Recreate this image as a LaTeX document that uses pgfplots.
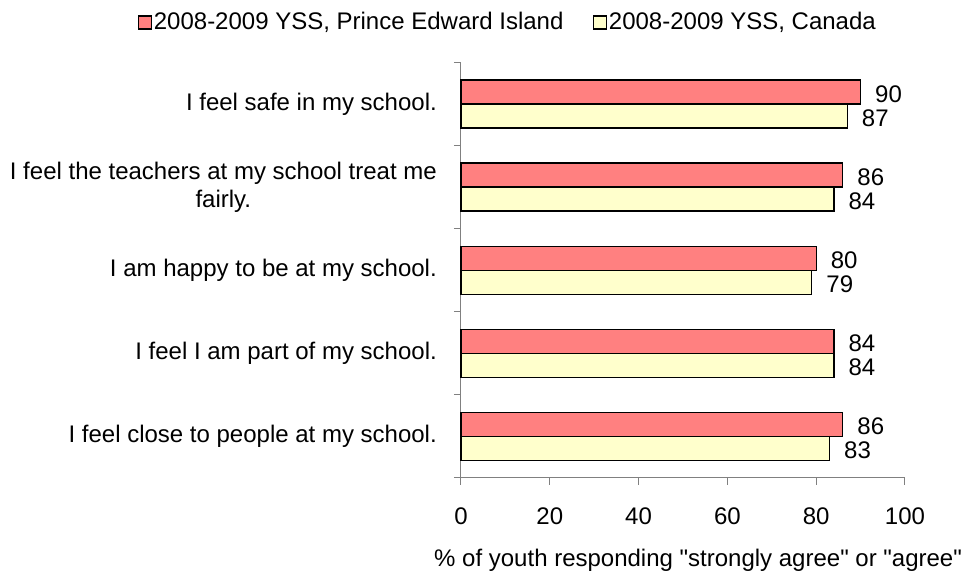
\documentclass[border=0pt]{standalone}
\usepackage{fontspec}
\setmainfont{Liberation Sans}[Ligatures=TeXOff]
\usepackage{pgfplots}
\pgfplotsset{compat=1.18}
\definecolor{peired}{HTML}{FF8080}
\definecolor{canyel}{HTML}{FFFFCC}
\definecolor{axgray}{HTML}{808080}
\begin{document}
\fontsize{24}{27.6}\selectfont
\begin{tikzpicture}
\begin{axis}[
 name=ax,
 scale only axis, width=444pt, height=415.6pt,
 xbar, bar width=24pt,
 xmin=0, xmax=100, ymin=-0.5, ymax=4.5,
 enlargelimits=false, clip=false,
 axis x line*=bottom, axis y line*=left,
 axis line style={axgray, line width=1pt, -},
 tick align=outside, major tick length=7pt,
 tick style={axgray, line width=1pt},
 xtick={0,20,...,100},
 xticklabel style={inner sep=0pt, yshift=-23pt},
 ytick={-0.5,0.5,...,4.5},
 yticklabel=\empty,
 extra y ticks={0,1,2,3,4},
 extra y tick labels={{I feel close to people at my school.},{I feel I am part of my school.},{I am happy to be at my school.},{I feel the teachers at my school treat me\\fairly.},{I feel safe in my school.}},
 extra y tick style={major tick length=0pt, yticklabel style={align=center, inner sep=0pt, xshift=-24pt}},
 /pgf/number format/assume math mode=true,
 xlabel={\% of youth responding "strongly agree" or "agree"},
 xlabel style={at={(axis description cs:0.534,-0.214)}, anchor=base, inner sep=0pt},
 legend columns=2,
 legend style={at={(0.105,1.096)}, anchor=center, draw=none, fill=none, nodes={inner sep=1.5pt}, /tikz/every even column/.append style={column sep=28pt}},
 legend image code/.code={\draw[#1, line width=1.5pt] (0pt,-6.5pt) rectangle (13pt,6.5pt);},
 nodes near coords, point meta=x,
 every node near coord/.append style={anchor=west, inner sep=0pt, xshift=14pt, yshift=-2pt, black},
]
\addplot[fill=peired, draw=black, line width=1.3pt, bar shift=12pt] coordinates {(86,0) (84,1) (80,2) (86,3) (90,4)};
\addlegendentry{2008-2009 YSS, Prince Edward Island}
\addplot[fill=canyel, draw=black, line width=1.3pt, bar shift=-12pt] coordinates {(83,0) (84,1) (79,2) (84,3) (87,4)};
\addlegendentry{2008-2009 YSS, Canada}
\end{axis}
\pgfresetboundingbox
\path[use as bounding box] (ax.south west) ++(-461pt,-97pt) rectangle ++(964pt,575pt);
\end{tikzpicture}
\end{document}
